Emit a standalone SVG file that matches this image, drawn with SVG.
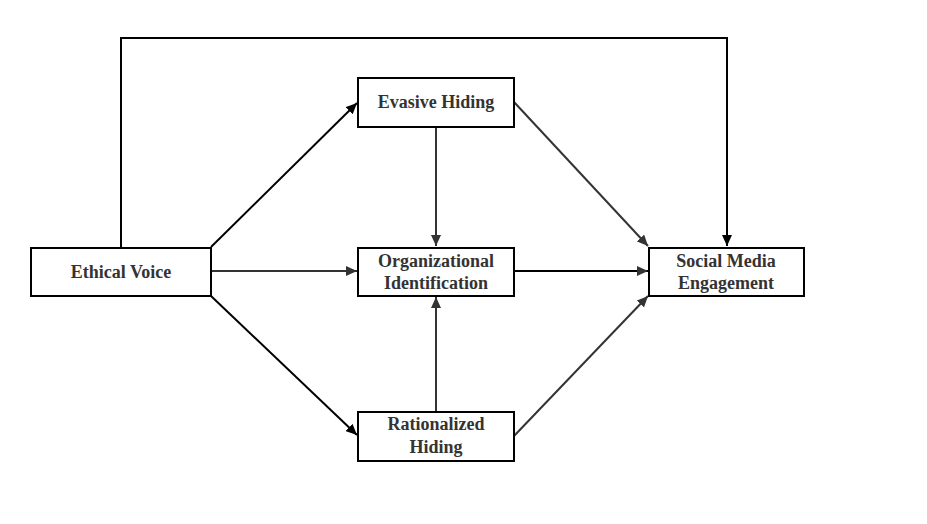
<svg xmlns="http://www.w3.org/2000/svg" width="927" height="524" viewBox="0 0 927 524">
<style>
.box{fill:#fff;stroke:#000;stroke-width:2}
.lbl{font-family:"Liberation Serif","Times New Roman",serif;font-weight:bold;font-size:18px;fill:#333;text-anchor:middle}
.c{fill:none;stroke:#333;stroke-width:2}
.k{fill:none;stroke:#000;stroke-width:2}
</style>
<defs>
<marker id="ah" markerUnits="userSpaceOnUse" markerWidth="12" markerHeight="10" refX="11" refY="5" orient="auto">
<path d="M0,0 L11,5 L0,10 Z" fill="#333"/>
</marker>
<marker id="ahk" markerUnits="userSpaceOnUse" markerWidth="12" markerHeight="10" refX="11" refY="5" orient="auto">
<path d="M0,0 L11,5 L0,10 Z" fill="#000"/>
</marker>
</defs>
<rect width="927" height="524" fill="#fff"/>
<g id="connectors">
<polyline class="k" points="121,247 121,38 727,38 727,246" marker-end="url(#ahk)"/>
<line class="k" x1="211" y1="247" x2="357" y2="103" marker-end="url(#ahk)"/>
<line class="c" x1="211" y1="271" x2="357" y2="271" marker-end="url(#ah)"/>
<line class="k" x1="211" y1="296" x2="357" y2="435" marker-end="url(#ahk)"/>
<line class="c" x1="436" y1="127" x2="436" y2="246" marker-end="url(#ah)"/>
<line class="c" x1="436" y1="412" x2="436" y2="297" marker-end="url(#ah)"/>
<line class="c" x1="514" y1="102" x2="648" y2="246" marker-end="url(#ah)"/>
<line class="k" x1="514" y1="271" x2="648" y2="271" marker-end="url(#ah)"/>
<line class="c" x1="514" y1="436" x2="648" y2="296" marker-end="url(#ah)"/>
</g>
<g id="ethical-voice">
<rect class="box" x="31" y="248" width="180" height="48"/>
<text class="lbl" x="121" y="278">Ethical Voice</text>
</g>
<g id="evasive-hiding">
<rect class="box" x="358" y="78" width="156" height="49"/>
<text class="lbl" x="436" y="108">Evasive Hiding</text>
</g>
<g id="organizational-identification">
<rect class="box" x="358" y="248" width="156" height="48"/>
<text class="lbl" x="436" y="267">Organizational</text>
<text class="lbl" x="436" y="289">Identification</text>
</g>
<g id="rationalized-hiding">
<rect class="box" x="358" y="412" width="156" height="49"/>
<text class="lbl" x="436" y="430">Rationalized</text>
<text class="lbl" x="436" y="453">Hiding</text>
</g>
<g id="social-media-engagement">
<rect class="box" x="649" y="248" width="155" height="48"/>
<text class="lbl" x="726" y="267">Social Media</text>
<text class="lbl" x="726" y="289">Engagement</text>
</g>
</svg>
